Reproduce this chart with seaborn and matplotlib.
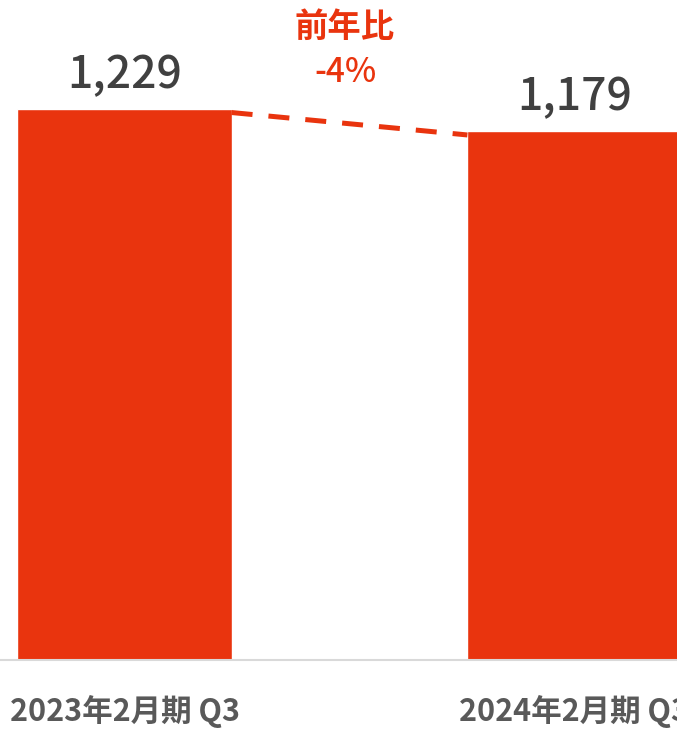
import matplotlib
matplotlib.use("Agg")
import matplotlib.pyplot as plt
import seaborn as sns
import pandas as pd

# data
periods = ["2023年2月期 Q3", "2024年2月期 Q3"]
values = [1229, 1179]

red = "#E9340E"
dark = "#404040"
gray = "#595959"

sns.set_theme(style="white")
plt.rcParams['font.family'] = ['Noto Sans CJK JP', 'DejaVu Sans']

df = pd.DataFrame({"period": periods, "value": values})

fig = plt.figure(figsize=(6.77, 7.29), dpi=100)
ax = fig.add_axes([0, 69 / 729, 1, 660 / 729])

bw = 0.476
sns.barplot(data=df, x="period", y="value", color=red, width=bw,
            saturation=1, ax=ax)

ax.set_xlim(-0.2767, 1.2278)
ax.set_ylim(0, 1472)

# value labels
for i, v in enumerate(values):
    ax.annotate(f"{v:,}", (i, v), xytext=(0, 15), textcoords="offset points",
                ha="center", va="baseline", fontsize=32, fontweight="medium",
                color=dark)

# dashed connector between bar tops
ax.plot([0 + bw / 2, 1 - bw / 2], [values[0] - 8, values[1] - 8],
        color=red, lw=3.6, dashes=(4.2, 3.2), solid_capstyle="butt",
        dash_capstyle="butt")

change = round((values[1] / values[0] - 1) * 100)
ax.text(0.49, 1410, "前年比", ha="center", va="center", fontsize=24,
        fontweight="bold", color=red)
ax.text(0.49, 1311, f"{change}%", ha="center", va="center", fontsize=24,
        fontweight="medium", color=red)

sns.despine(ax=ax, left=True, top=True, right=True)
ax.spines["bottom"].set_color("#D9D9D9")
ax.spines["bottom"].set_linewidth(1.5)
ax.set_yticks([])
ax.set_xlabel("")
ax.set_ylabel("")
ax.tick_params(axis="x", length=0, pad=25, labelsize=22, labelcolor=gray)
for t in ax.get_xticklabels():
    t.set_fontweight("bold")

fig.savefig("out.png", dpi=100)
